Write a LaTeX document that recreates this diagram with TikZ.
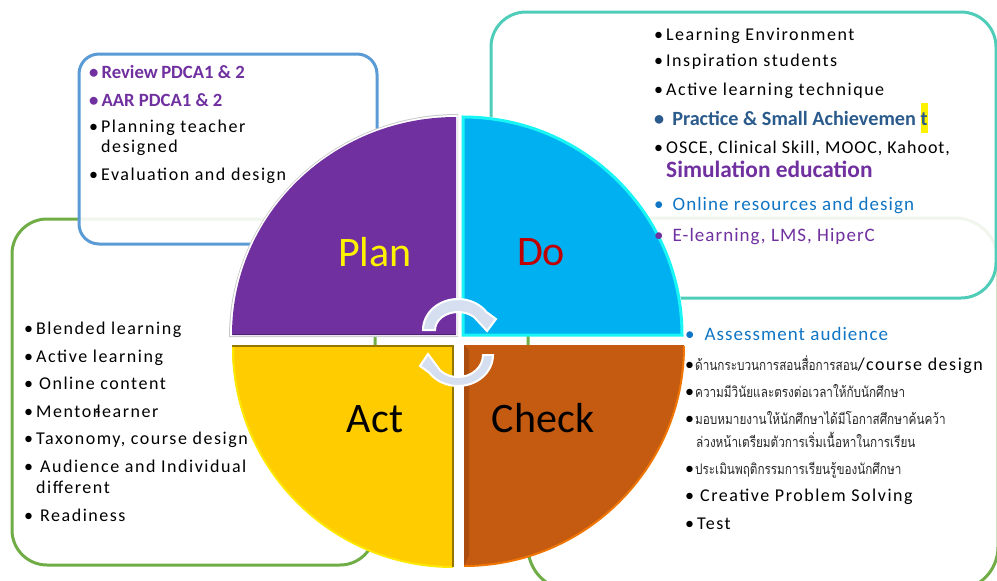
\documentclass[tikz,border=0pt]{standalone}
\usepackage{fontspec}
\setmainfont{Carlito}
\newfontfamily\spc[LetterSpace=8.5]{Carlito}
\newfontfamily\spcb[LetterSpace=5.5]{Carlito}
\newfontfamily\thaifont[Script=Thai,FakeStretch=0.81]{Loma}
\definecolor{cteal}{HTML}{4FCDB9}
\definecolor{cblue}{HTML}{5B9BD5}
\definecolor{cgreen}{HTML}{70AD47}
\definecolor{cpurple}{HTML}{7030A0}
\definecolor{csky}{HTML}{00B0F0}
\definecolor{ccyan}{HTML}{19F5F5}
\definecolor{cgold}{HTML}{FFCC00}
\definecolor{crust}{HTML}{C55A11}
\definecolor{cnavy}{HTML}{2A5B8C}
\definecolor{clink}{HTML}{0F75C4}
\definecolor{cred}{HTML}{C00000}
\definecolor{carrow}{HTML}{D6DFEF}
\newcommand{\bul}[1]{\textbullet\hspace{#1}}
\newcommand{\tbul}{{\fontspec{Carlito}\fontsize{18}{20}\selectfont\textcolor{black}{\textbullet}\hspace{1pt}}}
\tikzset{
  panel/.style={line width=3pt,rounded corners=#1},
  txt/.style={anchor=base west,inner sep=0pt,font=\fontsize{18}{20}\selectfont\spc,text=black},
  txtb/.style={anchor=base west,inner sep=0pt,font=\fontsize{18}{20}\selectfont\spcb,text=black},
  thai/.style={anchor=base west,inner sep=0pt,font=\fontsize{14.5}{16}\selectfont\thaifont,text=black!85},
  boldtxt/.style={anchor=base west,inner sep=0pt,font=\fontsize{18.7}{20}\selectfont\bfseries},
  pielabel/.style={anchor=center,inner sep=0pt,font=\fontsize{42}{46}\selectfont},
  turn/.style={fill=carrow,draw=white,line width=2pt,line join=miter}
}
\begin{document}
\begin{tikzpicture}[x=1pt,y=-1pt]
\useasboundingbox (0,0) rectangle (997,581);
% panels, back to front
\draw[panel=35pt,draw=cgreen] (12,219) rectangle (375,565);
\draw[panel=43pt,draw=cgreen] (528,218) rectangle (998,590);
\fill[white,opacity=.9,rounded corners=20pt] (79,54) rectangle (377,244);
\draw[panel=20pt,draw=cblue] (79,54) rectangle (377,244);
\fill[white,opacity=.9,rounded corners=35pt] (491,12) rectangle (996,298);
\draw[panel=35pt,draw=cteal] (491,12) rectangle (996,298);
% Plan quadrant
\fill[black!22] (458,337) -- (229,337) arc[start angle=180,end angle=270,x radius=229,y radius=223] -- cycle;
\fill[white] (457.5,336) -- (230,336) arc[start angle=180,end angle=270,x radius=227.5,y radius=221] -- cycle;
\fill[cpurple] (456,335) -- (232,335) arc[start angle=180,end angle=270,x radius=224,y radius=218] -- cycle;
\draw[cpurple!70!black,line width=1.6pt] (232.5,334.5) -- (455.5,334.5);
% Do quadrant
\fill[white] (461,336) -- (684,336) arc[start angle=0,end angle=-90,x radius=223,y radius=221] -- cycle;
\fill[csky,draw=ccyan,line width=3pt,line join=miter] (463,335) -- (682,335) arc[start angle=0,end angle=-90,x radius=219,y radius=218] -- cycle;
% Act quadrant
\fill[cgold] (453,346) -- (232,346) arc[start angle=180,end angle=90,x radius=221,y radius=221] -- cycle;
\draw[yellow!90!orange,line width=2pt] (233,347) arc[start angle=180,end angle=90,x radius=220,y radius=220];
\draw[black!42!cgold,line width=1.6pt] (232,346) -- (453,346) -- (453,567);
% Check quadrant
\fill[crust] (464,345) -- (684,345) arc[start angle=0,end angle=90,x radius=220,y radius=221] -- cycle;
\draw[orange!75!crust,line width=2pt] (684,346) arc[start angle=0,end angle=90,x radius=220,y radius=220];
\fill[crust!75!black,opacity=.55] (464,345) -- (469,350) -- (469,555) -- (464,566) -- cycle;
% turning arrows
\draw[turn] (423,330) arc[start angle=180,end angle=325,x radius=35,y radius=31] -- (496,319) -- (487,331) -- (474.3,317.3) arc[start angle=315,end angle=180,x radius=23,y radius=18] -- cycle;
\draw[turn] (493,355) arc[start angle=0,end angle=145,x radius=35,y radius=31] -- (420,366) -- (428,354) -- (440.3,370.6) arc[start angle=135,end angle=0,x radius=25,y radius=22] -- cycle;
% quadrant names
\node[pielabel,text=yellow] (plan) at (375,252) {Plan};
\node[pielabel,text=cred] (do) at (541,252) {Do};
\node[pielabel,text=black] (act) at (375,419) {Act};
\node[pielabel,text=black] (check) at (543,418) {Check};
% Plan list
\node[boldtxt,text=cpurple] (p1) at (89,78) {\bul{3pt}Review\hspace{3.5pt}PDCA1 \& 2};
\node[boldtxt,text=cpurple] (p2) at (89,106) {\bul{3pt}AAR PDCA1 \& 2};
\node[txt] (p3) at (89,132) {\bul{3pt}Planning teacher};
\node[txt] (p4) at (101,152) {designed};
\node[txt] (p5) at (89,180) {\bul{3pt}Evaluation and design};
% Do list
\node[txt] (d1) at (654,40) {\bul{3pt}Learning Environment};
\node[txt] (d2) at (654,66) {\bul{3pt}Inspiration students};
\node[txt] (d3) at (654,95) {\bul{3pt}Active learning technique};
\node[boldtxt,text=cnavy,font=\fontsize{20.2}{22}\selectfont\bfseries] (d4) at (654,125) {\bul{8pt}Practice \& Small Achievemen \setlength{\fboxsep}{0pt}\colorbox{yellow}{\rule[-8pt]{0pt}{30pt}t}};
\node[txtb] (d5) at (654,153) {\bul{3pt}OSCE, Clinical Skill, MOOC, Kahoot,};
\node[boldtxt,text=cpurple,font=\fontsize{23.4}{26}\selectfont\bfseries] (d6) at (666,177) {Simulation education};
\node[txtb,text=clink,font=\fontsize{19}{21}\selectfont\spcb] (d7) at (654,210) {\bul{9pt}Online resources and design};
\node[txtb,text=cpurple,font=\fontsize{19}{21}\selectfont\spcb] (d8) at (654,241) {\bul{9pt}E-learning, LMS, HiperC};
% Act list
\node[txt] (a1) at (24,334) {\bul{3pt}Blended learning};
\node[txt] (a2) at (24,362) {\bul{3pt}Active learning};
\node[txt] (a3) at (24,389) {\bul{6pt}Online content};
\node[txt] (a4) at (24,417) {\bul{3pt}Mentor\hspace{-4pt}-\hspace{-4pt}learner};
\node[txt] (a5) at (24,444) {\bul{3pt}Taxonomy, course design};
\node[txt] (a6) at (24,472) {\bul{7pt}Audience and Individual};
\node[txt] (a7) at (36,493) {different};
\node[txt] (a8) at (24,521) {\bul{7pt}Readiness};
% Check list
\node[txtb,text=clink,font=\fontsize{19}{21}\selectfont\spcb] (c1) at (685,340) {\bul{10pt}Assessment audience};
\node[thai] (c2) at (685,370) {\tbul ด้านกระบวนการสอนสื่อการสอน{\spc\fontsize{18}{20}\selectfont\textcolor{black}{/course design}}};
\node[thai] (c3) at (685,397) {\tbul ความมีวินัยและตรงต่อเวลาให้กับนักศึกษา};
\node[thai] (c4) at (685,424) {\tbul มอบหมายงานให้นักศึกษาได้มีโอกาสศึกษาค้นคว้า};
\node[thai] (c5) at (696,447) {ล่วงหน้าเตรียมตัวการเริ่มเนื้อหาในการเรียน};
\node[thai] (c6) at (685,474) {\tbul ประเมินพฤติกรรมการเรียนรู้ของนักศึกษา};
\node[txt] (c7) at (685,501) {\bul{6pt}Creative Problem Solving};
\node[txt] (c8) at (685,529) {\bul{3pt}Test};
\end{tikzpicture}
\end{document}
